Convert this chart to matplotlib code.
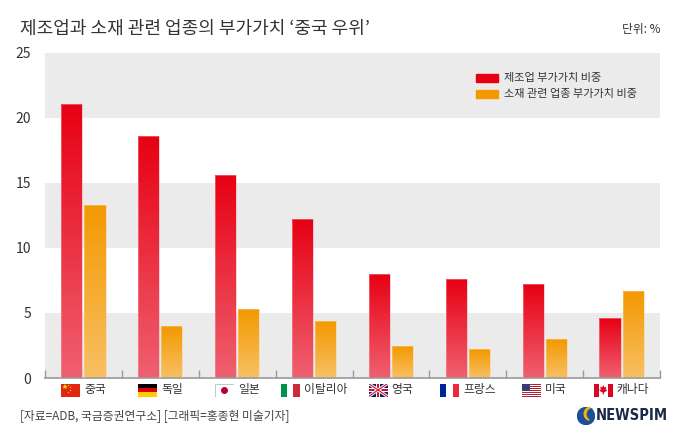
import numpy as np
import matplotlib
matplotlib.use("Agg")
import matplotlib.pyplot as plt
from matplotlib.colors import to_rgb
from matplotlib.patches import Rectangle, Circle, Wedge, Polygon

plt.rcParams['font.family'] = ['Noto Sans CJK KR', 'DejaVu Sans']

# data (unit: %)
countries = ['중국', '독일', '일본', '이탈리아', '영국', '프랑스', '미국', '캐나다']
flag_codes = ['cn', 'de', 'jp', 'it', 'gb', 'fr', 'us', 'ca']
manufacturing = [21.1, 18.6, 15.6, 12.2, 8.0, 7.6, 7.2, 4.6]
materials = [13.3, 4.0, 5.3, 4.4, 2.5, 2.2, 3.0, 6.7]
series_names = ['제조업 부가가치 비중', '소재 관련 업종 부가가치 비중']
y_ticks = [0, 5, 10, 15, 20, 25]

W, H = 680, 442
RED_TOP, RED_BOT = '#e60012', '#ef6070'
ORG_TOP, ORG_BOT = '#f39800', '#f7c064'
TXT = '#333333'

fig = plt.figure(figsize=(W / 100, H / 100), dpi=100)
fig.patch.set_facecolor('white')
ax = fig.add_axes([45 / W, 1 - 378 / H, 615 / W, 325 / H])

n = len(countries)
x = np.arange(n)

# horizontal bands
for lo in range(0, 25, 10):
    ax.axhspan(lo, lo + 5, color='#ebebeb', zorder=0, lw=0)
ax.axhspan(20, 25, color='#ebebeb', zorder=0, lw=0)


def gradient_bars(xs, vals, top, bot, edge, k=80):
    # bar drawn as k stacked slices, colour fading from top to bottom
    vals = np.asarray(vals)
    ct, cb = np.array(to_rgb(top)), np.array(to_rgb(bot))
    for j in range(k):
        f = (j + 0.5) / k          # 0 = bottom, 1 = top
        col = cb * (1 - f) + ct * f
        ax.bar(xs, vals / k, bottom=vals * j / k, width=0.275, color=col,
               lw=0, antialiased=False, zorder=2)
    ax.bar(xs, vals, width=0.275, facecolor='none', edgecolor=edge, lw=0.5,
           alpha=0.7, zorder=3)


gradient_bars(x - 0.15, manufacturing, RED_TOP, RED_BOT, '#f5a0a8')
gradient_bars(x + 0.15, materials, ORG_TOP, ORG_BOT, '#f9d090')

ax.set_xlim(-0.5, n - 0.5)
ax.set_ylim(0, 25)
ax.set_yticks(y_ticks)
ax.set_yticklabels([str(t) for t in y_ticks], color=TXT, fontsize=10)
ax.tick_params(axis='y', length=0, pad=10)
ax.set_xticks(x)
ax.set_xticklabels([])
ax.tick_params(axis='x', which='major', length=0)
ax.set_xticks(np.arange(-0.5, n, 1), minor=True)
ax.tick_params(axis='x', which='minor', direction='in', length=6, color='#999999', width=1)
for s in ['top', 'left', 'right']:
    ax.spines[s].set_visible(False)
ax.spines['bottom'].set_color('#999999')
ax.spines['bottom'].set_linewidth(1.2)
ax.set_facecolor('none')

# legend
for i, (name, col) in enumerate(zip(series_names, [RED_TOP, ORG_TOP])):
    yy = 78 + i * 16
    fig.add_artist(Rectangle((476 / W, 1 - (yy + 4) / H), 22 / W, 8 / H,
                             color=col, transform=fig.transFigure))
    fig.text(504 / W, 1 - yy / H, name, fontsize=8, color=TXT, va='center', ha='left')

# title, unit, source
fig.text(20 / W, 1 - 29 / H, '제조업과 소재 관련 업종의 부가가치 ‘중국 우위’',
         fontsize=13, color=TXT, va='center', ha='left')
fig.text(660 / W, 1 - 30 / H, '단위: %', fontsize=8.5, color=TXT, va='center', ha='right')
fig.text(20 / W, 1 - 416 / H, '[자료=ADB, 국금증권연구소] [그래픽=홍종현 미술기자]',
         fontsize=8.5, color='#444444', va='center', ha='left')


def draw_flag(fax, code):
    fax.set_xlim(0, 1)
    fax.set_ylim(0, 1)
    fax.axis('off')
    R = lambda x0, y0, w, h, c: fax.add_patch(Rectangle((x0, y0), w, h, color=c, lw=0))
    if code == 'cn':
        R(0, 0, 1, 1, '#de2910')
        fax.plot([0.2], [0.7], marker='*', color='#ffde00', ms=4, mew=0)
        for sx, sy in [(0.37, 0.88), (0.45, 0.72), (0.45, 0.52), (0.37, 0.38)]:
            fax.plot([sx], [sy], marker='*', color='#ffde00', ms=1.5, mew=0)
    elif code == 'de':
        R(0, 2 / 3, 1, 1 / 3, '#000000')
        R(0, 1 / 3, 1, 1 / 3, '#dd0000')
        R(0, 0, 1, 1 / 3, '#ffce00')
    elif code == 'jp':
        R(0, 0, 1, 1, 'white')
        fax.add_patch(Rectangle((0, 0), 1, 1, fill=False, edgecolor='#bbbbbb', lw=0.6))
        fax.plot([0.5], [0.5], marker='o', color='#bc002d', ms=5, mew=0)
    elif code == 'it':
        R(0, 0, 1 / 3, 1, '#009246')
        R(1 / 3, 0, 1 / 3, 1, 'white')
        R(2 / 3, 0, 1 / 3, 1, '#ce2b37')
    elif code == 'gb':
        R(0, 0, 1, 1, '#012169')
        fax.plot([0, 1], [0, 1], color='white', lw=2.2)
        fax.plot([0, 1], [1, 0], color='white', lw=2.2)
        fax.plot([0, 1], [0, 1], color='#c8102e', lw=0.8)
        fax.plot([0, 1], [1, 0], color='#c8102e', lw=0.8)
        R(0.4, 0, 0.2, 1, 'white')
        R(0, 0.35, 1, 0.3, 'white')
        R(0.45, 0, 0.1, 1, '#c8102e')
        R(0, 0.42, 1, 0.16, '#c8102e')
    elif code == 'fr':
        R(0, 0, 1 / 3, 1, '#002395')
        R(1 / 3, 0, 1 / 3, 1, 'white')
        R(2 / 3, 0, 1 / 3, 1, '#ed2939')
    elif code == 'us':
        for k in range(13):
            R(0, k / 13, 1, 1 / 13, '#b22234' if k % 2 == 0 else 'white')
        R(0, 6 / 13, 0.42, 7 / 13, '#3c3b6e')
    elif code == 'ca':
        R(0, 0, 1, 1, 'white')
        R(0, 0, 0.25, 1, '#d80621')
        R(0.75, 0, 0.25, 1, '#d80621')
        leaf = [(0.5, 0.88), (0.56, 0.7), (0.66, 0.76), (0.62, 0.5), (0.7, 0.56),
                (0.68, 0.42), (0.53, 0.3), (0.53, 0.15), (0.47, 0.15), (0.47, 0.3),
                (0.32, 0.42), (0.3, 0.56), (0.38, 0.5), (0.34, 0.76), (0.44, 0.7)]
        fax.add_patch(Polygon(leaf, color='#d80621', lw=0))


# flags + country labels
renderer = fig.canvas.get_renderer()
fw, fh, gap = 19, 13, 4
label_y = 390
for i, (name, code) in enumerate(zip(countries, flag_codes)):
    cx = 45 + (i + 0.5) * 615 / n
    t = fig.text(0, 1 - label_y / H, name, fontsize=8.5, color=TXT, va='center', ha='left')
    tw = t.get_window_extent(renderer).width
    left = cx - (fw + gap + tw) / 2
    t.set_x((left + fw + gap) / W)
    fax = fig.add_axes([left / W, 1 - (label_y + fh / 2) / H, fw / W, fh / H])
    draw_flag(fax, code)

# NEWSPIM logo
lax = fig.add_axes([577 / W, 1 - 425 / H, 18 / W, 18 / H])
lax.set_xlim(-1, 1)
lax.set_ylim(-1, 1)
lax.axis('off')
lax.add_patch(Circle((0, 0), 0.95, color='#1b4f9c'))
lax.add_patch(Wedge((0.55, 0.25), 0.75, 100, 250, color='#f5b400'))
lax.add_patch(Wedge((0.75, 0.2), 0.6, 100, 260, color='#1b4f9c'))
fig.text(596 / W, 1 - 416 / H, 'NEWSPIM', fontsize=10.5, fontweight='bold',
         color='#1a2a48', va='center', ha='left', family='DejaVu Sans', fontstretch='condensed')

fig.savefig('out.png', dpi=100)
